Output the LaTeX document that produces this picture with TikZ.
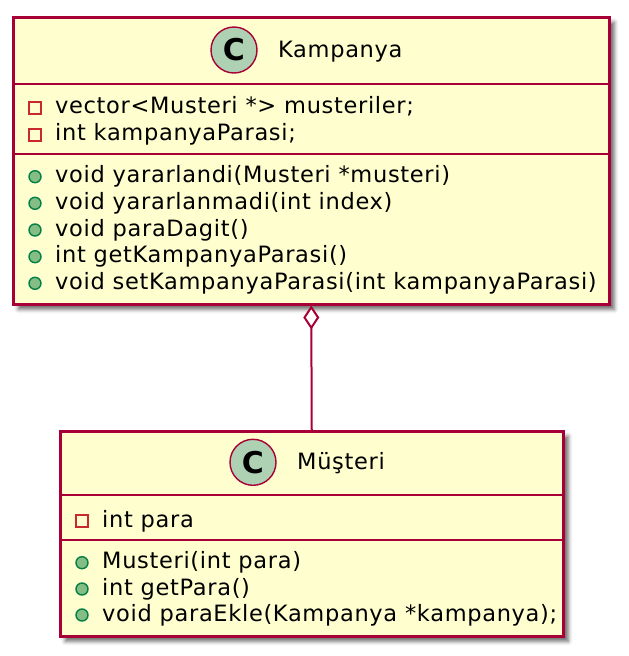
\documentclass[tikz,border=0pt]{standalone}
\usepackage{fontspec}
\setmainfont{DejaVu Sans}[LetterSpace=3.0]
\newfontfamily\cfont{DejaVu Sans}
\usetikzlibrary{arrows.meta,shadows.blur}
\definecolor{umlborder}{HTML}{A80036}
\definecolor{umlfill}{HTML}{FEFECE}
\definecolor{cfill}{HTML}{ADD1B2}
\definecolor{privred}{HTML}{C82930}
\definecolor{pubfill}{HTML}{84BE84}
\definecolor{pubgreen}{HTML}{038048}
\newcommand{\mfont}{\fontsize{22.5}{27}\selectfont}
\begin{document}
\begin{tikzpicture}[x=1pt,y=-1pt,
  box/.style={draw=umlborder, line width=2.5pt, fill=umlfill,
    blur shadow={shadow xshift=5pt, shadow yshift=-5pt, shadow blur radius=4pt, shadow opacity=60},
    inner sep=0pt, anchor=north west},
  sep/.style={draw=umlborder, line width=2.5pt},
  cicon/.style={circle, draw=umlborder, line width=1.4pt, fill=cfill, minimum size=46pt, inner sep=0pt,
    font=\cfont\bfseries\fontsize{30}{30}\selectfont},
  title/.style={anchor=base west, inner sep=0pt, font=\mfont},
  member/.style={anchor=base west, inner sep=0pt, font=\mfont},
  priv/.style={rectangle, draw=privred, line width=1.4pt, fill=umlfill, minimum size=12pt, inner sep=0pt},
  pub/.style={circle, draw=pubgreen, line width=1.4pt, fill=pubfill, minimum size=12pt, inner sep=0pt},
  assoc/.style={draw=umlborder, line width=2pt, {Diamond[open,fill=white,length=24pt,width=16pt]}-}
]
\useasboundingbox (0,0) rectangle (629,656);

% Kampanya class
\node[box, minimum width=596pt, minimum height=287pt] (K) at (12,16) {};
\draw[sep] (12,84) -- (608,84);
\draw[sep] (12,154) -- (608,154);
\node[cicon] (KC) at (234,50) {C};
\node[title] (KT) at (278,57.5) {Kampanya};
\node[priv] (ka1) at (35,108) {};
\node[member] (kat1) at (55,113.5) {vector<Musteri *> musteriler;};
\node[priv] (ka2) at (35,135) {};
\node[member] (kat2) at (55,140.5) {int kampanyaParasi;};
\node[pub] (km1) at (35,176.7) {};
\node[member] (kmt1) at (55,182.7) {void yararlandi(Musteri *musteri)};
\node[pub] (km2) at (35,203.3) {};
\node[member] (kmt2) at (55,209.3) {void yararlanmadi(int index)};
\node[pub] (km3) at (35,230) {};
\node[member] (kmt3) at (55,236) {void paraDagit()};
\node[pub] (km4) at (35,256.7) {};
\node[member] (kmt4) at (55,262.7) {int getKampanyaParasi()};
\node[pub] (km5) at (35,283.3) {};
\node[member] (kmt5) at (55,289.3) {void setKampanyaParasi(int kampanyaParasi)};

% Musteri class
\node[box, minimum width=503pt, minimum height=205pt] (M) at (59,430) {};
\draw[sep] (59,495) -- (562,495);
\draw[sep] (59,540) -- (562,540);
\node[cicon] (MC) at (253,462.3) {C};
\node[title] (MT) at (297,469.5) {Müşteri};
\node[priv] (ma1) at (82,521) {};
\node[member] (mat1) at (102,527) {int para};
\node[pub] (mm1) at (82,562.7) {};
\node[member] (mmt1) at (102,568.7) {Musteri(int para)};
\node[pub] (mm2) at (82,589) {};
\node[member] (mmt2) at (102,595) {int getPara()};
\node[pub] (mm3) at (82,615) {};
\node[member] (mmt3) at (102,621) {void paraEkle(Kampanya *kampanya);};

% aggregation
\draw[assoc] (K.south) -- (M.north);
\end{tikzpicture}
\end{document}
